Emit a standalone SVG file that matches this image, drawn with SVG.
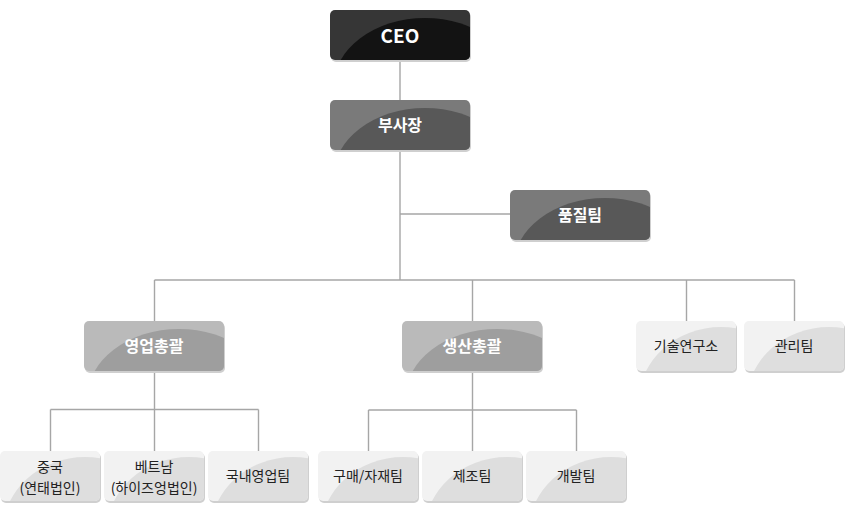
<svg xmlns="http://www.w3.org/2000/svg" width="845" height="510" viewBox="0 0 845 510">
<style>
.ln{fill:none;stroke:#a6a6a6;stroke-width:1.4}
.sh{fill:#cfcfcf}
.t{font-family:"Noto Sans CJK KR","Noto Sans",sans-serif;text-anchor:middle}
.tw{fill:#fff;font-weight:bold;font-size:16px}
.td{fill:#222;font-size:14px}
.c-dk1{fill:#363636}.c-dk2{fill:#131313}
.c-md1{fill:#7a7a7a}.c-md2{fill:#585858}
.c-lt1{fill:#bababa}.c-lt2{fill:#9e9e9e}
.c-wh1{fill:#f2f2f2}.c-wh2{fill:#dedede}
</style>
<defs>
<clipPath id="cb"><rect x="0" y="0" width="140" height="50" rx="5"/></clipPath>
<clipPath id="cs"><rect x="0" y="0" width="100" height="50" rx="5"/></clipPath>
</defs>
<g id="connectors">
<path class="ln" d="M400 60V280M400 214H510M154.5 280H794.5M154.5 280V321M472.5 280V321M686.5 280V321M794.5 280V321"/>
<path class="ln" d="M154.5 371V409.5M50.5 409.5H258.5M50.5 409.5V451M154.5 409.5V451M258.5 409.5V451"/>
<path class="ln" d="M472.5 371V410M368.5 410H576.5M368.5 410V451M472.5 410V451M576.5 410V451"/>
</g>
<g id="ceo" transform="translate(330,10)">
<rect class="sh" x="1" y="2" width="140" height="50" rx="5"/>
<g clip-path="url(#cb)"><rect class="c-dk1" width="140" height="50"/><ellipse class="c-dk2" cx="95" cy="78" rx="92" ry="70"/></g>
<text class="t tw" x="70" y="33" style="font-size:19px">CEO</text>
</g>
<g id="vp" transform="translate(330,100)">
<rect class="sh" x="1" y="2" width="140" height="50" rx="5"/>
<g clip-path="url(#cb)"><rect class="c-md1" width="140" height="50"/><ellipse class="c-md2" cx="95" cy="78" rx="92" ry="70"/></g>
<text class="t tw" x="70" y="31">부사장</text>
</g>
<g id="quality" transform="translate(510,190)">
<rect class="sh" x="1" y="2" width="140" height="50" rx="5"/>
<g clip-path="url(#cb)"><rect class="c-md1" width="140" height="50"/><ellipse class="c-md2" cx="95" cy="78" rx="92" ry="70"/></g>
<text class="t tw" x="70" y="31">품질팀</text>
</g>
<g id="sales" transform="translate(84,321)">
<rect class="sh" x="1" y="2" width="140" height="50" rx="5"/>
<g clip-path="url(#cb)"><rect class="c-lt1" width="140" height="50"/><ellipse class="c-lt2" cx="95" cy="78" rx="92" ry="70"/></g>
<text class="t tw" x="70" y="31">영업총괄</text>
</g>
<g id="production" transform="translate(402,321)">
<rect class="sh" x="1" y="2" width="140" height="50" rx="5"/>
<g clip-path="url(#cb)"><rect class="c-lt1" width="140" height="50"/><ellipse class="c-lt2" cx="95" cy="78" rx="92" ry="70"/></g>
<text class="t tw" x="70" y="31">생산총괄</text>
</g>
<g id="rnd" transform="translate(636,321)">
<rect class="sh" x="1" y="2" width="100" height="50" rx="5"/>
<g clip-path="url(#cs)"><rect class="c-wh1" width="100" height="50"/><ellipse class="c-wh2" cx="85" cy="80" rx="82" ry="74"/></g>
<text class="t td" x="50" y="30">기술연구소</text>
</g>
<g id="admin" transform="translate(744,321)">
<rect class="sh" x="1" y="2" width="100" height="50" rx="5"/>
<g clip-path="url(#cs)"><rect class="c-wh1" width="100" height="50"/><ellipse class="c-wh2" cx="85" cy="80" rx="82" ry="74"/></g>
<text class="t td" x="50" y="30">관리팀</text>
</g>
<g id="china" transform="translate(0,451)">
<rect class="sh" x="1" y="2" width="100" height="50" rx="5"/>
<g clip-path="url(#cs)"><rect class="c-wh1" width="100" height="50"/><ellipse class="c-wh2" cx="85" cy="80" rx="82" ry="74"/></g>
<text class="t td" x="50" y="21">중국</text>
<text class="t td" x="50" y="42">(연태법인)</text>
</g>
<g id="vietnam" transform="translate(104,451)">
<rect class="sh" x="1" y="2" width="100" height="50" rx="5"/>
<g clip-path="url(#cs)"><rect class="c-wh1" width="100" height="50"/><ellipse class="c-wh2" cx="85" cy="80" rx="82" ry="74"/></g>
<text class="t td" x="50" y="21">베트남</text>
<text class="t td" x="50" y="42">(하이즈엉법인)</text>
</g>
<g id="domestic" transform="translate(208,451)">
<rect class="sh" x="1" y="2" width="100" height="50" rx="5"/>
<g clip-path="url(#cs)"><rect class="c-wh1" width="100" height="50"/><ellipse class="c-wh2" cx="85" cy="80" rx="82" ry="74"/></g>
<text class="t td" x="50" y="30">국내영업팀</text>
</g>
<g id="purchasing" transform="translate(318,451)">
<rect class="sh" x="1" y="2" width="100" height="50" rx="5"/>
<g clip-path="url(#cs)"><rect class="c-wh1" width="100" height="50"/><ellipse class="c-wh2" cx="85" cy="80" rx="82" ry="74"/></g>
<text class="t td" x="50" y="30">구매/자재팀</text>
</g>
<g id="manufacturing" transform="translate(422,451)">
<rect class="sh" x="1" y="2" width="100" height="50" rx="5"/>
<g clip-path="url(#cs)"><rect class="c-wh1" width="100" height="50"/><ellipse class="c-wh2" cx="85" cy="80" rx="82" ry="74"/></g>
<text class="t td" x="50" y="30">제조팀</text>
</g>
<g id="development" transform="translate(526,451)">
<rect class="sh" x="1" y="2" width="100" height="50" rx="5"/>
<g clip-path="url(#cs)"><rect class="c-wh1" width="100" height="50"/><ellipse class="c-wh2" cx="85" cy="80" rx="82" ry="74"/></g>
<text class="t td" x="50" y="30">개발팀</text>
</g>
</svg>
